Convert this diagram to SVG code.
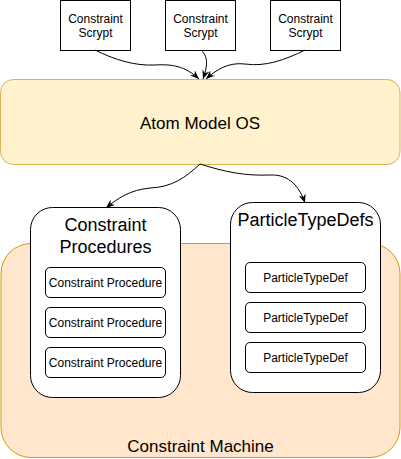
<svg xmlns="http://www.w3.org/2000/svg" width="401" height="459" viewBox="0 0 401 459">
<style>
text{font-family:"Liberation Sans",Arial,Helvetica,sans-serif;fill:#000;text-anchor:middle}
.s12{font-size:12px}
.s17{font-size:17px}
.s18{font-size:18px}
.box{fill:#fff;stroke:#000;stroke-width:1}
.edge{fill:none;stroke:#000;stroke-width:1;marker-end:url(#arr)}
</style>
<defs>
<marker id="arr" viewBox="0 0 10 8" refX="10" refY="4" markerWidth="9" markerHeight="7" markerUnits="userSpaceOnUse" orient="auto">
<path d="M0,0 L10,4 L0,8 L3,4 z" fill="#000"/>
</marker>
</defs>
<g id="machine">
<rect x="1" y="243.5" width="399" height="214" rx="30" ry="30" fill="#ffe6cc" stroke="#d79b00"/>
<text class="s17" x="200.5" y="451.5">Constraint Machine</text>
</g>
<g id="atom-model-os">
<rect x="0.5" y="79.5" width="399.5" height="85" rx="13" ry="13" fill="#fff2cc" stroke="#d6b656"/>
<text class="s17" x="200" y="128.5">Atom Model OS</text>
</g>
<g id="scrypt1">
<rect class="box" x="60.5" y="0.5" width="70" height="50"/>
<text class="s12" x="95.5" y="22.5">Constraint</text>
<text class="s12" x="95.5" y="37">Scrypt</text>
</g>
<g id="scrypt2">
<rect class="box" x="165.5" y="0.5" width="70" height="50"/>
<text class="s12" x="200.5" y="22.5">Constraint</text>
<text class="s12" x="200.5" y="37">Scrypt</text>
</g>
<g id="scrypt3">
<rect class="box" x="270.5" y="0.5" width="70" height="50"/>
<text class="s12" x="305.5" y="22.5">Constraint</text>
<text class="s12" x="305.5" y="37">Scrypt</text>
</g>
<g id="procedures">
<rect class="box" x="30.5" y="207.5" width="150" height="190" rx="22" ry="22"/>
<text class="s18" x="105.5" y="230.5">Constraint</text>
<text class="s18" x="105.5" y="252.5">Procedures</text>
</g>
<g id="procedure1">
<rect class="box" x="45.5" y="267.5" width="120" height="30" rx="4.5" ry="4.5"/>
<text class="s12" x="105.5" y="286.5">Constraint Procedure</text>
</g>
<g id="procedure2">
<rect class="box" x="45.5" y="307.5" width="120" height="30" rx="4.5" ry="4.5"/>
<text class="s12" x="105.5" y="326.5">Constraint Procedure</text>
</g>
<g id="procedure3">
<rect class="box" x="45.5" y="347.5" width="120" height="30" rx="4.5" ry="4.5"/>
<text class="s12" x="105.5" y="366.5">Constraint Procedure</text>
</g>
<g id="particletypedefs">
<rect class="box" x="230.5" y="202.5" width="150" height="190" rx="22" ry="22"/>
<text class="s18" x="305.5" y="226">ParticleTypeDefs</text>
</g>
<g id="ptd1">
<rect class="box" x="245.5" y="262.5" width="120" height="30" rx="4.5" ry="4.5"/>
<text class="s12" x="305.5" y="281.5">ParticleTypeDef</text>
</g>
<g id="ptd2">
<rect class="box" x="245.5" y="302.5" width="120" height="30" rx="4.5" ry="4.5"/>
<text class="s12" x="305.5" y="321.5">ParticleTypeDef</text>
</g>
<g id="ptd3">
<rect class="box" x="245.5" y="342.5" width="120" height="30" rx="4.5" ry="4.5"/>
<text class="s12" x="305.5" y="361.5">ParticleTypeDef</text>
</g>
<g id="connectors">
<path class="edge" d="M95,50 C115,60 135,66 155,65 C172,64 185,66 199,79"/>
<path class="edge" d="M201,50 C210,58 206,70 203,79"/>
<path class="edge" d="M305,50 C285,60 265,67 245,64 C228,62 216,70 206,79"/>
<path class="edge" d="M200,164 C185,178 172,187 150,188 C130,190 118,198 106,208"/>
<path class="edge" d="M200,164 C225,172 245,176 270,175 C290,174 300,188 305,203"/>
</g>
</svg>
